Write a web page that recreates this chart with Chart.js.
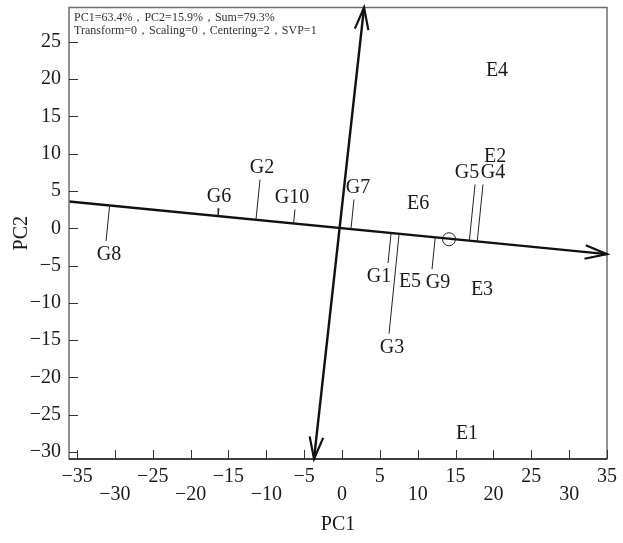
<!DOCTYPE html>
<html>
<head>
<meta charset="utf-8">
<script src="https://cdn.jsdelivr.net/npm/chart.js@4.4.0/dist/chart.umd.min.js"></script>
<style>
  body { margin: 0; background: #fff; }
</style>
</head>
<body>
<canvas id="biplot" width="623" height="543"></canvas>
<script>
// genotypes (end point of each projection line)
var genotypes = ['G1', 'G2', 'G3', 'G4', 'G5', 'G6', 'G7', 'G8', 'G9', 'G10'];
var genoPC1 = [6.08, -10.83, 6.21, 18.62, 17.57, -16.25, 1.58, -31.17, 11.89, -6.21];
var genoPC2 = [-4.67, 6.53, -14.13, 5.87, 5.87, 2.67, 3.87, -1.73, -5.47, 2.53];

// environments
var environments = ['E1', 'E2', 'E3', 'E4', 'E5', 'E6'];
var envPC1 = [16.51, 20.21, 18.49, 20.47, 8.98, 10.04];
var envPC2 = [-27.6, 9.6, -8.27, 21.07, -7.2, 3.33];

// average environment axis (abscissa, arrow at 2nd end) and its ordinate
var abscPC1 = [-36.06, 35.0];
var abscPC2 = [3.6, -3.47];
var ordPC1 = [-3.70, 2.91];
var ordPC2 = [-30.93, 29.6];

// average environment (small circle)
var avgEnvPC1 = [14.13];
var avgEnvPC2 = [-1.47];

var xTickLabels = ['-35', '-30', '-25', '-20', '-15', '-10', '-5', '0', '5', '10', '15', '20', '25', '30', '35'];
var yTickLabels = ['-30', '-25', '-20', '-15', '-10', '-5', '0', '5', '10', '15', '20', '25'];
var headerLines = ['PC1=63.4%，PC2=15.9%，Sum=79.3%', 'Transform=0，Scaling=0，Centering=2，SVP=1'];

// label nudges in pixels (layout only)
var labelNudge = { G1: -9, G2: 2, G3: 3, G4: 10, G5: -8, G7: 4, G8: 3, G9: 6, G10: -3 };

var SERIF = '"Liberation Serif", "Times New Roman", serif';

function project(px, py) {
    var ax = abscPC1[0], ay = abscPC2[0];
    var dx = abscPC1[1] - ax, dy = abscPC2[1] - ay;
    var t = ((px - ax) * dx + (py - ay) * dy) / (dx * dx + dy * dy);
    return { x: ax + t * dx, y: ay + t * dy };
}

var datasets = [];
genotypes.forEach(function (g, i) {
    var p = project(genoPC1[i], genoPC2[i]);
    datasets.push({
        label: g,
        data: [{ x: genoPC1[i], y: genoPC2[i] }, p],
        showLine: true,
        borderColor: '#222',
        borderWidth: 1,
        pointRadius: 0
    });
});
datasets.push({
    label: 'abscissa',
    data: abscPC1.map(function (v, i) { return { x: v, y: abscPC2[i] }; }),
    showLine: true, borderColor: '#111', borderWidth: 2.4, pointRadius: 0
});
datasets.push({
    label: 'ordinate',
    data: ordPC1.map(function (v, i) { return { x: v, y: ordPC2[i] }; }),
    showLine: true, borderColor: '#111', borderWidth: 2.4, pointRadius: 0
});
datasets.push({
    label: 'average environment',
    data: avgEnvPC1.map(function (v, i) { return { x: v, y: avgEnvPC2[i] }; }),
    pointRadius: 6.5, pointStyle: 'circle', borderColor: '#222', borderWidth: 1,
    backgroundColor: 'rgba(0,0,0,0)'
});

function arrowHead(ctx, fx, fy, tx, ty) {
    var ang = Math.atan2(ty - fy, tx - fx), len = 23, spread = 0.3;
    ctx.beginPath();
    ctx.moveTo(tx - len * Math.cos(ang - spread), ty - len * Math.sin(ang - spread));
    ctx.lineTo(tx, ty);
    ctx.lineTo(tx - len * Math.cos(ang + spread), ty - len * Math.sin(ang + spread));
    ctx.stroke();
}

function noPadding(scale) {
    scale.paddingTop = 0;
    scale.paddingBottom = 0;
    scale.paddingLeft = 0;
    scale.paddingRight = 0;
}

var biplotDecor = {
    id: 'biplotDecor',
    afterDatasetsDraw: function (chart) {
        var ctx = chart.ctx, xs = chart.scales.x, ys = chart.scales.y, a = chart.chartArea;
        ctx.save();

        // frame
        ctx.strokeStyle = '#6e6e6e';
        ctx.lineWidth = 1.5;
        ctx.strokeRect(a.left, a.top, a.right - a.left, a.bottom - a.top);
        ctx.strokeStyle = '#222';
        ctx.beginPath();
        ctx.moveTo(a.left, a.bottom); ctx.lineTo(a.right, a.bottom);
        ctx.stroke();

        // inner ticks
        ctx.lineWidth = 1;
        ctx.strokeStyle = '#333';
        xs.ticks.forEach(function (t) {
            var px = Math.round(xs.getPixelForValue(t.value)) + 0.5;
            ctx.beginPath(); ctx.moveTo(px, a.bottom); ctx.lineTo(px, a.bottom - 9); ctx.stroke();
        });
        ys.ticks.forEach(function (t) {
            var py = Math.round(ys.getPixelForValue(t.value)) + 0.5;
            ctx.beginPath(); ctx.moveTo(a.left, py); ctx.lineTo(a.left + 9, py); ctx.stroke();
        });

        // arrows
        ctx.strokeStyle = '#111';
        ctx.lineWidth = 2.2;
        arrowHead(ctx, xs.getPixelForValue(abscPC1[0]), ys.getPixelForValue(abscPC2[0]),
            xs.getPixelForValue(abscPC1[1]), ys.getPixelForValue(abscPC2[1]));
        arrowHead(ctx, xs.getPixelForValue(ordPC1[0]), ys.getPixelForValue(ordPC2[0]),
            xs.getPixelForValue(ordPC1[1]), ys.getPixelForValue(ordPC2[1]));
        arrowHead(ctx, xs.getPixelForValue(ordPC1[1]), ys.getPixelForValue(ordPC2[1]),
            xs.getPixelForValue(ordPC1[0]), ys.getPixelForValue(ordPC2[0]));

        // labels
        ctx.fillStyle = '#1a1a1a';
        ctx.font = '20px ' + SERIF;
        ctx.textAlign = 'center';
        ctx.textBaseline = 'middle';
        genotypes.forEach(function (g, i) {
            var px = xs.getPixelForValue(genoPC1[i]), py = ys.getPixelForValue(genoPC2[i]);
            var p = project(genoPC1[i], genoPC2[i]);
            var below = py > ys.getPixelForValue(p.y);
            ctx.fillText(g, px + (labelNudge[g] || 0), py + (below ? 14 : -12));
        });
        environments.forEach(function (e, i) {
            ctx.fillText(e, xs.getPixelForValue(envPC1[i]), ys.getPixelForValue(envPC2[i]));
        });

        // header
        ctx.font = '12px ' + SERIF;
        ctx.fillStyle = '#333';
        ctx.textAlign = 'left';
        headerLines.forEach(function (line, i) {
            ctx.fillText(line, a.left + 5, a.top + 10 + i * 13);
        });
        ctx.restore();
    }
};

new Chart(document.getElementById('biplot'), {
    type: 'scatter',
    data: { datasets: datasets },
    options: {
        responsive: false,
        animation: false,
        devicePixelRatio: 1,
        layout: { padding: { top: 5, right: 16, left: 0, bottom: 0 } },
        plugins: { legend: { display: false }, tooltip: { enabled: false } },
        scales: {
            x: {
                type: 'linear', min: -36.06, max: 35,
                grid: { display: false, drawTicks: false },
                border: { display: false },
                ticks: {
                    stepSize: 5, includeBounds: false, autoSkip: false, maxRotation: 0,
                    padding: 9, color: '#1a1a1a',
                    font: { family: SERIF, size: 20, lineHeight: 0.9 },
                    callback: function (value, index) {
                        var s = (xTickLabels[index] || String(value)).replace('-', '\u2212');
                        return index % 2 === 0 ? s : ['', s];
                    }
                },
                title: { display: true, text: 'PC1', color: '#1a1a1a', font: { family: SERIF, size: 20 }, padding: { top: 0, bottom: 6 } },
                afterFit: function (scale) { scale.height = 84; noPadding(scale); }
            },
            y: {
                type: 'linear', min: -30.93, max: 29.6,
                grid: { display: false, drawTicks: false },
                border: { display: false },
                ticks: {
                    stepSize: 5, includeBounds: false, padding: 8, color: '#1a1a1a',
                    font: { family: SERIF, size: 20 },
                    callback: function (value, index) {
                        return (yTickLabels[index] || String(value)).replace('-', '\u2212');
                    }
                },
                title: { display: true, text: 'PC2', color: '#1a1a1a', font: { family: SERIF, size: 20 }, padding: { top: 10, bottom: 0 } },
                afterFit: function (scale) { scale.width = 69; noPadding(scale); }
            }
        }
    },
    plugins: [biplotDecor]
});
</script>
</body>
</html>
